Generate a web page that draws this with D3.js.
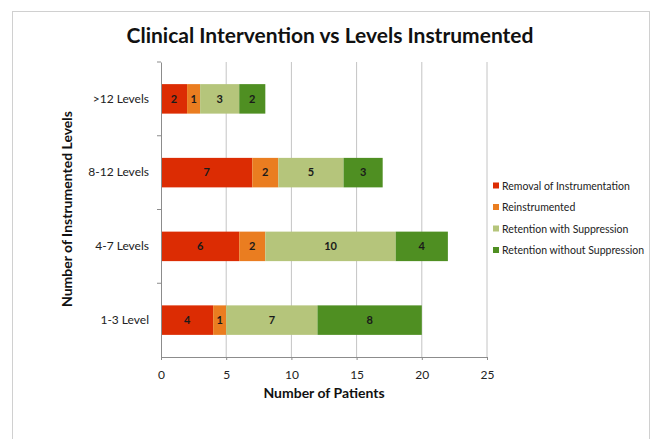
<!DOCTYPE html>
<html>
<head>
<meta charset="utf-8">
<script src="https://cdn.jsdelivr.net/npm/d3@7"></script>
<style>
  body { margin: 0; background: #fff; }
  text { font-family: Lato, "Open Sans", sans-serif; }
</style>
</head>
<body>
<script>
const categories = ['>12 Levels', '8-12 Levels', '4-7 Levels', '1-3 Level'];
const seriesNames = ['Removal of Instrumentation', 'Reinstrumented', 'Retention with Suppression', 'Retention without Suppression'];
const removal = [2, 7, 6, 4];
const reinstrumented = [1, 2, 2, 1];
const withSuppression = [3, 5, 10, 7];
const withoutSuppression = [2, 3, 4, 8];
const xTicks = [0, 5, 10, 15, 20, 25];
const colors = ['#dc2c03', '#ea7d20', '#b5c57b', '#4f8f22'];

const w = 652, h = 439;
const plotLeft = 161, plotRight = 487, plotTop = 62, plotBottom = 357;

const rows = categories.map((c, i) => ({
    cat: c,
    vals: [removal[i], reinstrumented[i], withSuppression[i], withoutSuppression[i]]
}));

const svg = d3.select('body')
    .append('svg')
    .attr('width', w)
    .attr('height', h);

// outer frame
svg.append('rect')
    .attr('x', 12.5).attr('y', 11.5)
    .attr('width', 637).attr('height', 440)
    .attr('fill', '#fff')
    .attr('stroke', '#d0d0d0');

const xScale = d3.scaleLinear().domain([0, 25]).range([plotLeft, plotRight]);
const yScale = d3.scaleBand().domain(categories).range([plotTop, plotBottom]).paddingInner(0.6).paddingOuter(0.3);

// gridlines
svg.append('g')
    .selectAll('line')
    .data(xTicks.slice(1))
    .enter()
    .append('line')
    .attr('x1', d => xScale(d)).attr('x2', d => xScale(d))
    .attr('y1', plotTop).attr('y2', plotBottom)
    .attr('stroke', '#c4c4c4');

// bars
rows.forEach(r => {
    let acc = 0;
    const segs = r.vals.map((v, j) => {
        const s = { start: acc, v: v, j: j };
        acc += v;
        return s;
    });
    const g = svg.append('g');
    g.selectAll('rect')
        .data(segs)
        .enter()
        .append('rect')
        .attr('x', d => xScale(d.start))
        .attr('y', yScale(r.cat))
        .attr('width', d => xScale(d.start + d.v) - xScale(d.start))
        .attr('height', yScale.bandwidth())
        .attr('fill', d => colors[d.j]);
    g.selectAll('text')
        .data(segs)
        .enter()
        .append('text')
        .attr('x', d => xScale(d.start + d.v / 2))
        .attr('y', yScale(r.cat) + yScale.bandwidth() / 2)
        .attr('dy', '0.35em')
        .attr('text-anchor', 'middle')
        .attr('font-size', 11)
        .attr('font-weight', 'bold')
        .attr('fill', '#1a1a1a')
        .text(d => d.v);
});

// x axis
const xAxis = d3.axisBottom(xScale).tickValues(xTicks).tickSize(3).tickPadding(10);
const xg = svg.append('g')
    .attr('transform', 'translate(0,' + plotBottom + ')')
    .call(xAxis);
xg.select('.domain').attr('stroke', '#8c8c8c');
xg.selectAll('.tick line').attr('stroke', '#8c8c8c');
xg.selectAll('text').attr('font-size', 12).attr('fill', '#222').attr('font-family', 'Lato, sans-serif');

// y axis
const yAxis = d3.axisLeft(yScale).tickSize(0).tickPadding(12);
const yg = svg.append('g')
    .attr('transform', 'translate(' + plotLeft + ',0)')
    .call(yAxis);
yg.select('.domain').attr('stroke', '#8c8c8c');
yg.selectAll('text').attr('font-size', 12).attr('fill', '#222').attr('font-family', 'Lato, sans-serif');

const bounds = categories.map((c, i) => plotTop + i * (plotBottom - plotTop) / categories.length);
svg.append('g')
    .selectAll('line')
    .data(bounds)
    .enter()
    .append('line')
    .attr('x1', plotLeft - 4).attr('x2', plotLeft)
    .attr('y1', d => d).attr('y2', d => d)
    .attr('stroke', '#8c8c8c');

// titles
svg.append('text')
    .attr('x', 330).attr('y', 43)
    .attr('text-anchor', 'middle')
    .attr('font-size', 21)
    .attr('font-weight', 'bold')
    .attr('fill', '#111')
    .text('Clinical Intervention vs Levels Instrumented');

svg.append('text')
    .attr('x', 324).attr('y', 398)
    .attr('text-anchor', 'middle')
    .attr('font-size', 14)
    .attr('font-weight', 'bold')
    .attr('fill', '#111')
    .text('Number of Patients');

svg.append('text')
    .attr('transform', 'translate(72,209) rotate(-90)')
    .attr('text-anchor', 'middle')
    .attr('font-size', 14)
    .attr('font-weight', 'bold')
    .attr('fill', '#111')
    .text('Number of Instrumented Levels');

// legend
const legend = svg.append('g');
const lg = legend.selectAll('g')
    .data(seriesNames)
    .enter()
    .append('g')
    .attr('transform', (d, i) => 'translate(493,' + (186 + i * 21.5) + ')');
lg.append('rect')
    .attr('x', 0).attr('y', -3.5)
    .attr('width', 6).attr('height', 6)
    .attr('fill', (d, i) => colors[i]);
lg.append('text')
    .attr('x', 9).attr('y', 0)
    .attr('dy', '0.35em')
    .attr('font-size', 10.5)
    .attr('fill', '#222')
    .text(d => d);
</script>
</body>
</html>
